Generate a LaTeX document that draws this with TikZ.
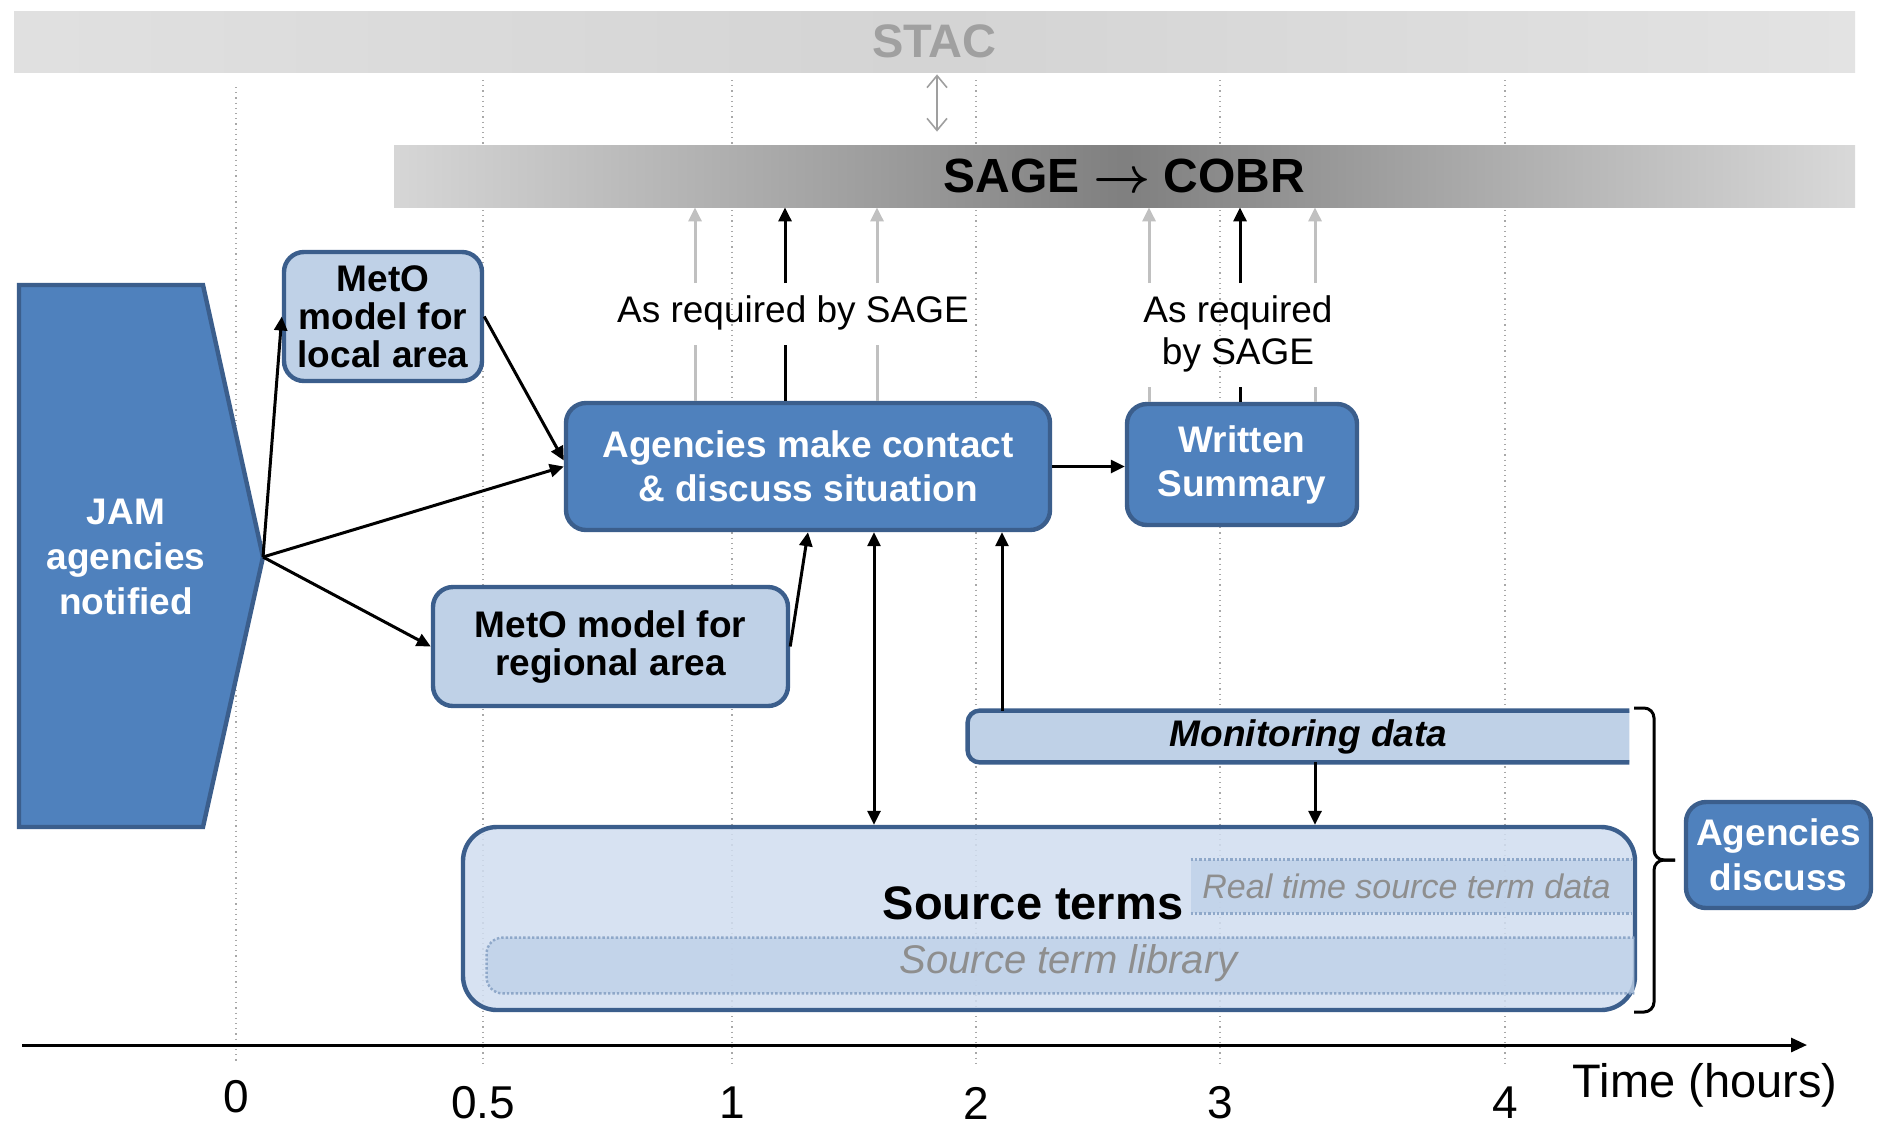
\documentclass[tikz,border=0pt]{standalone}
\usepackage{fontspec}
\setmainfont{Liberation Sans}
\usetikzlibrary{arrows.meta,calc}

\definecolor{midblue}{HTML}{4F81BD}
\definecolor{bordblue}{HTML}{3B5E8C}
\definecolor{lightblue}{HTML}{BFD1E7}
\definecolor{paleblue}{HTML}{D0DEF0}
\definecolor{bandblue}{HTML}{BFD1E8}
\definecolor{dotblue}{HTML}{8FA8C9}
\definecolor{gridgray}{HTML}{A8A8A8}
\definecolor{softgray}{HTML}{C0C0C0}
\definecolor{ghosttext}{HTML}{8E8E8E}
\definecolor{stacgray}{HTML}{A0A0A0}

\begin{document}
\begin{tikzpicture}[x=0.5pt, y=-0.5pt,
  boxfont/.style={font=\bfseries\fontsize{18.5}{#1}\selectfont},
  darkbox/.style={draw=bordblue, fill=midblue, line width=2.2pt, rounded corners=10pt,
    text=white, align=center, inner sep=0pt},
  lightbox/.style={darkbox, fill=lightblue, text=black},
  tip/.style={-{Triangle[length=7pt,width=6.5pt]}},
  flow/.style={line width=1.5pt, tip},
  flowgrey/.style={flow, draw=softgray},
  stubgrey/.style={line width=1.5pt, draw=softgray},
  stubblack/.style={line width=1.5pt},
  gridline/.style={gridgray, line width=0.6pt, dotted},
  dotline/.style={dotblue, line width=1.2pt, densely dotted},
  ticklabel/.style={font=\fontsize{23}{26}\selectfont, inner sep=0pt},
]
\useasboundingbox (0,0) rectangle (1888,1136);
\fill[white] (0,0) rectangle (1888,1136);

% STAC band
\node (stac) at (934.5,41.5) [minimum width=920.5pt, minimum height=30.5pt, inner sep=0pt,
  left color=gray!24, right color=gray!22, middle color=gray!34,
  text=stacgray, font=\bfseries\fontsize{23.5}{25}\selectfont] {STAC};

% time grid
\foreach \gx/\gy in {236/87, 483/80, 732/80, 976/80, 1220/80, 1505/80}
  \draw[gridline] (\gx,\gy) -- (\gx,1064);

% SAGE band
\node (sage) at (1124.5,176) [minimum width=730.5pt, minimum height=31pt, inner sep=0pt,
  left color=gray!32, right color=gray!30, middle color=gray!100,
  font=\bfseries\fontsize{24}{26}\selectfont] {SAGE {\boldmath$\rightarrow$} COBR};

% link between STAC and SAGE
\coordinate (sx) at (937,0);
\draw[gray!75, line width=0.8pt, {Straight Barb[length=6pt,width=10pt]}-{Straight Barb[length=6pt,width=10pt]}]
  ($(sx |- stac.south)+(0,2)$) -- ($(sx |- sage.north)+(0,-13)$);

% JAM notification shape
\fill[midblue, draw=bordblue, line width=2.2pt] (19,285) -- (203,285) -- (263,557) -- (203,827) -- (19,827) -- cycle;
\coordinate (jamtip) at (263,557);
\node (jam) at (126,557) [boxfont=22.5, text=white, align=center] {JAM\\agencies\\notified};

% process boxes
\node (local) at (383,316.5) [lightbox, boxfont=19, minimum width=99pt, minimum height=64.5pt] {MetO\\model for\\local area};
\node (regional) at (610.5,646.5) [lightbox, boxfont=19, minimum width=177.5pt, minimum height=59.5pt] {MetO model for\\regional area};
\node (agencies) at (808,466.5) [darkbox, boxfont=22, minimum width=242pt, minimum height=63.5pt] {Agencies make contact\\\& discuss situation};
\node (written) at (1242,464.5) [darkbox, boxfont=22, minimum width=115pt, minimum height=60.5pt] {Written\\Summary};
\node (discuss) at (1778.5,855) [darkbox, boxfont=22.5, minimum width=92.5pt, minimum height=53pt] {Agencies\\discuss};

% monitoring data bar, open at its right end
\node (mon) at (1298.5,736.5) [minimum width=330.5pt, minimum height=25.5pt, inner sep=0pt] {};
\fill[lightblue] (mon.north east) [rounded corners=6pt] -- (mon.north west) -- (mon.south west) [sharp corners] -- (mon.south east) -- cycle;
\draw[bordblue, line width=2.2pt, rounded corners=6pt] (mon.north east) -- (mon.north west) -- (mon.south west) -- (mon.south east);
\node at ([xshift=5pt]mon.center) [font=\bfseries\itshape\fontsize{18.5}{21}\selectfont] {Monitoring data};

% source terms
\node (source) at (1049,918.5) [draw=bordblue, fill=paleblue, fill opacity=0.85, line width=2.2pt,
  rounded corners=17pt, minimum width=586pt, minimum height=91.5pt, inner sep=0pt] {};
\node (rt) at (1411.5,886.5) [fill=bandblue, fill opacity=0.8, text opacity=1, minimum width=220.5pt, minimum height=26.5pt,
  inner sep=0pt, text=ghosttext, font=\itshape\fontsize{17}{19}\selectfont] {\hspace*{-5pt}Real time source term data};
\draw[dotline] (rt.north west) -- (rt.north east);
\draw[dotline] (rt.south west) -- (rt.south east);
\node (lib) at (1060.5,965.5) [minimum width=573.5pt, minimum height=27.5pt, inner sep=0pt] {};
\fill[bandblue, fill opacity=0.8] (lib.north east) [rounded corners=8pt] -- (lib.north west) -- (lib.south west) [sharp corners] -- (lib.south east) -- cycle;
\draw[dotline, rounded corners=8pt] (lib.north east) -- (lib.north west) -- (lib.south west) -- (lib.south east);
\node at ([xshift=4pt,yshift=1pt]lib.center) [text=ghosttext, font=\itshape\fontsize{20}{22}\selectfont] {Source term library};
\node (stitle) at (1033,903) [inner sep=0pt, font=\bfseries\fontsize{23.5}{26}\selectfont] {Source terms};

% grouping bracket
\draw[line width=1.5pt, rounded corners=5pt] (1634,708) -- (1654,708) -- (1654,860) -- (1675,860);
\draw[line width=1.5pt, rounded corners=5pt] (1675,860) -- (1654,860) -- (1654,1012) -- (1634,1012);

% connectors from the notification
\draw[flow] (jamtip) -- (local.west);
\draw[flow] (jamtip) -- (agencies.west);
\draw[flow] (jamtip) -- (regional.west);
\draw[flow] (local.east) -- ([yshift=3pt]agencies.west);
\draw[flow] (regional.east) -- (agencies.south);
\draw[flow] (agencies.east) -- (agencies.east -| written.west);

\coordinate (dbl) at (874,0);
\draw[line width=1.5pt, {Triangle[length=7pt,width=6.5pt]}-{Triangle[length=7pt,width=6.5pt]}]
  (dbl |- agencies.south) -- (dbl |- source.north);
\coordinate (mup) at (1002,0);
\draw[flow] (mup |- mon.north) -- (mup |- agencies.south);
\coordinate (mdown) at (1315,0);
\draw[flow] (mdown |- mon.south) -- (mdown |- source.north);

% reporting to SAGE
\node (req1) at (793,313) [font=\fontsize{18.5}{21}\selectfont, inner sep=0pt] {As required by SAGE};
\node (req2) at (1238,334) [font=\fontsize{18.5}{21}\selectfont, align=center, inner sep=0pt] {As required\\by SAGE};
\coordinate (lo1) at (0,345);
\coordinate (lo2) at (0,387);
\coordinate (hi) at (0,283);
\coordinate (a1) at (695,0);
\coordinate (a2) at (785,0);
\coordinate (a3) at (877,0);
\coordinate (b1) at (1149,0);
\coordinate (b2) at (1240,0);
\coordinate (b3) at (1315,0);
\foreach \c in {a1,a3} {
  \draw[stubgrey] (\c |- agencies.north) -- (\c |- lo1);
  \draw[flowgrey] (\c |- hi) -- (\c |- sage.south);
}
\draw[stubblack] (a2 |- agencies.north) -- (a2 |- lo1);
\draw[flow] (a2 |- hi) -- (a2 |- sage.south);
\foreach \c in {b1,b3} {
  \draw[stubgrey] (\c |- written.north) -- (\c |- lo2);
  \draw[flowgrey] (\c |- hi) -- (\c |- sage.south);
}
\draw[stubblack] (b2 |- written.north) -- (b2 |- lo2);
\draw[flow] (b2 |- hi) -- (b2 |- sage.south);

% time axis
\coordinate (axstart) at (22,1045);
\coordinate (axend) at (1807,1045);
\draw[line width=1.5pt, -{Triangle[length=8pt,width=7pt]}] (axstart) -- (axend);
\node[ticklabel] (t0) at (236,1097) {0};
\node[ticklabel] (t05) at (483,1103) {0.5};
\node[ticklabel] (t1) at (732,1103) {1};
\node[ticklabel] (t2) at (976,1103) {2};
\node[ticklabel] (t3) at (1220,1103) {3};
\node[ticklabel] (t4) at (1505,1103) {4};
\node (tlabel) at (1705,1085) [font=\fontsize{23.5}{26}\selectfont, inner sep=0pt] {Time (hours)};
\end{tikzpicture}
\end{document}
